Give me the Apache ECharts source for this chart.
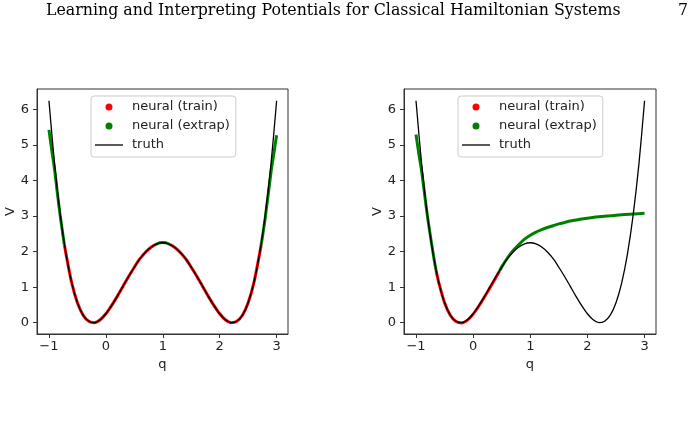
<!DOCTYPE html>
<html>
<head>
<meta charset="utf-8">
<script src="https://cdn.jsdelivr.net/npm/echarts@6/dist/echarts.min.js"></script>
<style>
  html, body { margin: 0; padding: 0; background: #fff; }
  #main { width: 694px; height: 423px; }
</style>
</head>
<body>
<div id="main"></div>
<script>
// truth potential, sampled off the figure every 0.1 in q
const truthQ = [-1.0, -0.9, -0.8, -0.7, -0.6, -0.5, -0.4, -0.3, -0.2, -0.1, 0.0,
  0.1, 0.2, 0.3, 0.4, 0.5, 0.6, 0.7, 0.8, 0.9, 1.0,
  1.1, 1.2, 1.3, 1.4, 1.5, 1.6, 1.7, 1.8, 1.9, 2.0,
  2.1, 2.2, 2.3, 2.4, 2.5, 2.6, 2.7, 2.8, 2.9, 3.0];
const truthV = [6.25, 4.45, 3.03, 1.93, 1.12, 0.56, 0.21, 0.04, 0.0, 0.08, 0.25,
  0.48, 0.74, 1.02, 1.30, 1.56, 1.80, 1.99, 2.13, 2.22, 2.25,
  2.22, 2.13, 1.99, 1.80, 1.56, 1.30, 1.02, 0.74, 0.48, 0.25,
  0.08, 0.0, 0.04, 0.21, 0.56, 1.12, 1.93, 3.03, 4.45, 6.25];

// left panel: neural net trained on both wells
const leftExtrapA = [[-1.0, 5.43], [-0.95, 4.85], [-0.9, 4.3], [-0.85, 3.62], [-0.8, 2.98], [-0.73, 2.2]];
const leftTrainA = [[-0.73, 2.2], [-0.7, 1.93], [-0.6, 1.12], [-0.5, 0.56], [-0.4, 0.21], [-0.3, 0.04],
  [-0.2, 0.0], [-0.1, 0.08], [0.0, 0.25], [0.1, 0.48], [0.2, 0.74], [0.3, 1.02], [0.4, 1.30],
  [0.5, 1.56], [0.6, 1.80], [0.7, 1.99], [0.8, 2.13], [0.87, 2.2]];
const leftExtrapB = [[0.87, 2.2], [0.95, 2.25], [1.0, 2.26], [1.05, 2.25], [1.13, 2.2]];
const leftTrainB = [[1.13, 2.2], [1.2, 2.13], [1.3, 1.99], [1.4, 1.80], [1.5, 1.56], [1.6, 1.30],
  [1.7, 1.02], [1.8, 0.74], [1.9, 0.48], [2.0, 0.25], [2.1, 0.08], [2.2, 0.0], [2.3, 0.04],
  [2.4, 0.21], [2.5, 0.56], [2.6, 1.12], [2.7, 1.93], [2.73, 2.2]];
const leftExtrapC = [[2.73, 2.2], [2.8, 2.95], [2.9, 4.22], [2.95, 4.75], [3.0, 5.28]];

// right panel: trained on the left well only
const rightExtrapA = [[-1.0, 5.3], [-0.95, 4.75], [-0.9, 4.25], [-0.8, 3.0], [-0.7, 1.95], [-0.65, 1.48]];
const rightTrain = [[-0.65, 1.48], [-0.6, 1.12], [-0.5, 0.56], [-0.4, 0.21], [-0.3, 0.03], [-0.2, -0.01],
  [-0.1, 0.07], [0.0, 0.24], [0.1, 0.47], [0.2, 0.73], [0.3, 1.0], [0.4, 1.28], [0.46, 1.45]];
const rightExtrapB = [[0.46, 1.45], [0.5, 1.57], [0.6, 1.82], [0.7, 2.03], [0.8, 2.2], [0.9, 2.35],
  [1.0, 2.46], [1.1, 2.55], [1.2, 2.62], [1.3, 2.68], [1.4, 2.73], [1.5, 2.78], [1.6, 2.82],
  [1.7, 2.86], [1.8, 2.89], [1.9, 2.92], [2.0, 2.94], [2.2, 2.98], [2.4, 3.01], [2.6, 3.04],
  [2.8, 3.06], [3.0, 3.08]];

const xTicks = [-1, 0, 1, 2, 3];
const yTicks = [0, 1, 2, 3, 4, 5, 6];

const chart = echarts.init(document.getElementById('main'));
const font = 'DejaVu Sans';
const truthData = truthQ.map((q, i) => [q, truthV[i]]);

function xAxis(idx) {
  return {
    gridIndex: idx, type: 'value', min: -1.21, max: 3.2,
    name: 'q', nameLocation: 'middle', nameGap: 21,
    nameTextStyle: { fontFamily: font, fontSize: 13, color: '#222' },
    axisLine: { show: true, onZero: false, lineStyle: { color: '#333', width: 1 } },
    axisTick: { show: true, inside: false, length: 4, customValues: xTicks, lineStyle: { color: '#333' } },
    axisLabel: {
      customValues: xTicks, margin: 6, fontFamily: font, fontSize: 13, color: '#222',
      formatter: v => (v < 0 ? '\u2212' + Math.abs(v) : '' + v)
    },
    splitLine: { show: false }
  };
}

function yAxis(idx) {
  return {
    gridIndex: idx, type: 'value', min: -0.32, max: 6.58,
    name: 'V', nameLocation: 'middle', nameGap: 20, nameRotate: 90,
    nameTextStyle: { fontFamily: font, fontSize: 13, color: '#222' },
    axisLine: { show: true, onZero: false, lineStyle: { color: '#333', width: 1 } },
    axisTick: { show: true, inside: false, length: 4, customValues: yTicks, lineStyle: { color: '#333' } },
    axisLabel: { customValues: yTicks, margin: 8, fontFamily: font, fontSize: 13, color: '#222' },
    splitLine: { show: false }
  };
}

function legend(left) {
  return {
    left: left, top: 96, orient: 'vertical',
    padding: [4, 6, 5, 4], itemGap: 5, itemWidth: 28, itemHeight: 7,
    backgroundColor: 'rgba(255,255,255,0.8)', borderColor: '#ccc', borderWidth: 1, borderRadius: 3,
    textStyle: { fontFamily: font, fontSize: 13, color: '#222', lineHeight: 14, padding: [0, 0, 0, 4] },
    data: [
      { name: 'neural (train)', icon: 'circle' },
      { name: 'neural (extrap)', icon: 'circle' },
      { name: 'truth', icon: 'path://M0,0H28V1.3H0Z' }
    ]
  };
}

function neural(name, color, data, idx) {
  return {
    name: name, type: 'line', xAxisIndex: idx, yAxisIndex: idx, data: data,
    smooth: 0.3, symbol: 'none', showSymbol: false, z: 2,
    lineStyle: { color: color, width: 3 }, itemStyle: { color: color }
  };
}

function truth(idx) {
  return {
    name: 'truth', type: 'line', xAxisIndex: idx, yAxisIndex: idx, data: truthData,
    smooth: 0.3, symbol: 'none', showSymbol: false, z: 3,
    lineStyle: { color: '#000', width: 1.3 }, itemStyle: { color: '#000' }
  };
}

const RED = '#ff0000';
const GREEN = '#008000';

const option = {
  animation: false,
  backgroundColor: '#fff',
  graphic: [
    {
      type: 'text', left: 46, top: 3,
      style: { text: 'Learning and Interpreting Potentials for Classical Hamiltonian Systems',
        font: '15.8px "DejaVu Serif"', fill: '#000' }
    },
    {
      type: 'text', left: 678, top: 3,
      style: { text: '7', font: '15.8px "DejaVu Serif"', fill: '#000' }
    }
  ],
  grid: [
    { left: 37, top: 89, width: 251, height: 245, show: true, borderColor: '#333', borderWidth: 1, backgroundColor: 'transparent' },
    { left: 404, top: 89, width: 252, height: 245, show: true, borderColor: '#333', borderWidth: 1, backgroundColor: 'transparent' }
  ],
  xAxis: [xAxis(0), xAxis(1)],
  yAxis: [yAxis(0), yAxis(1)],
  legend: [legend(91), legend(458)],
  series: [
    neural('neural (train)', RED, leftTrainA, 0),
    neural('neural (train)', RED, leftTrainB, 0),
    neural('neural (extrap)', GREEN, leftExtrapA, 0),
    neural('neural (extrap)', GREEN, leftExtrapB, 0),
    neural('neural (extrap)', GREEN, leftExtrapC, 0),
    truth(0),
    neural('neural (train)', RED, rightTrain, 1),
    neural('neural (extrap)', GREEN, rightExtrapA, 1),
    neural('neural (extrap)', GREEN, rightExtrapB, 1),
    truth(1)
  ]
};

chart.setOption(option);
</script>
</body>
</html>
